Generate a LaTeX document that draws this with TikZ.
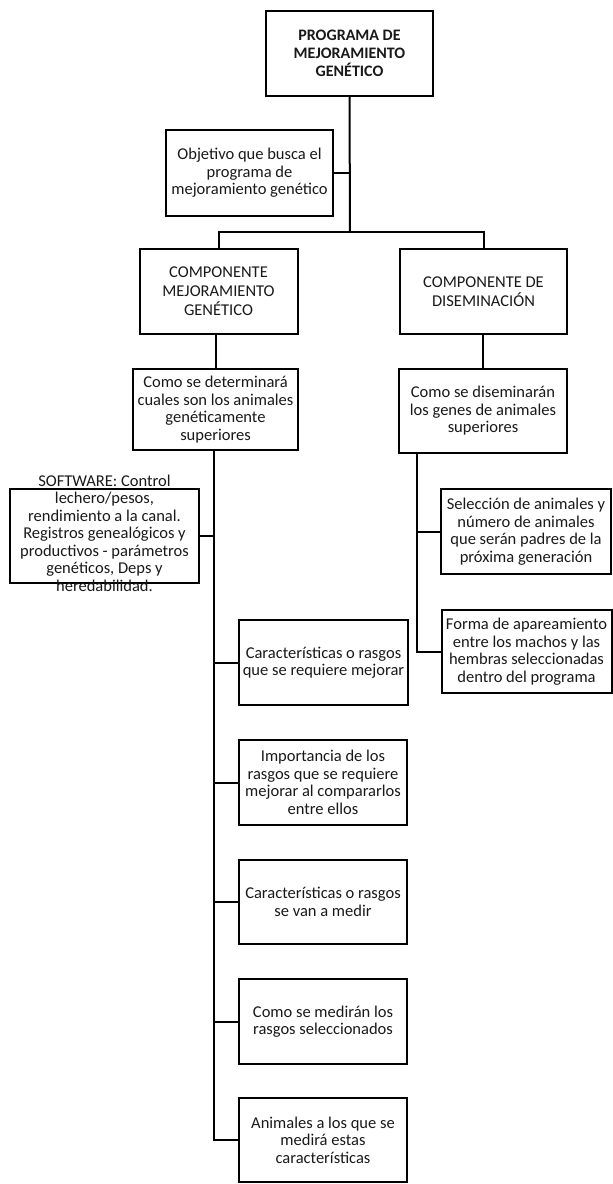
\documentclass[tikz,border=0pt]{standalone}
\usepackage{fontspec}
\setmainfont{Carlito}
\begin{document}
\begin{tikzpicture}[x=1pt,y=-1pt,
  box/.style={draw=black, line width=2pt, rectangle, align=center, inner sep=1pt,
    font=\fontsize{16.5}{17.5}\selectfont, text=black!90},
  conn/.style={draw=black, line width=2pt}]
\useasboundingbox (0,0) rectangle (613,1184);
% boxes
\node[box, minimum width=167, minimum height=85, font=\fontsize{16}{18}\selectfont\bfseries] (top) at (349.5,53.5) {PROGRAMA DE\\MEJORAMIENTO\\GENÉTICO};
\node[box, minimum width=167, minimum height=86] (obj) at (249.5,173) {Objetivo que busca el\\programa de\\mejoramiento genético};
\node[box, minimum width=158, minimum height=85, font=\fontsize{16.5}{19}\selectfont] (cm) at (218.5,291.5) {COMPONENTE\\MEJORAMIENTO\\GENÉTICO};
\node[box, minimum width=167, minimum height=85, font=\fontsize{16.5}{19}\selectfont] (cd) at (483.5,291.5) {COMPONENTE DE\\DISEMINACIÓN};
\node[box, minimum width=165, minimum height=81] (det) at (215.5,409.5) {Como se determinará\\cuales son los animales\\genéticamente\\superiores};
\node[box, minimum width=168, minimum height=84] (dis) at (483,411) {Como se diseminarán\\los genes de animales\\superiores};
\node[box, minimum width=189, minimum height=94] (sw) at (104.5,536) {};
\node[align=center, inner sep=0pt, font=\fontsize{16.5}{17.5}\selectfont, text=black!90] (swt) at (104.5,533) {SOFTWARE: Control\\lechero/pesos,\\rendimiento a la canal.\\Registros genealógicos y\\productivos - parámetros\\genéticos, Deps y\\heredabilidad.};
\node[box, minimum width=170, minimum height=85] (sel) at (526,531.5) {Selección de animales y\\número de animales\\que serán padres de la\\próxima generación};
\node[box, minimum width=170, minimum height=83] (forma) at (526.5,651.5) {Forma de apareamiento\\entre los machos y las\\hembras seleccionadas\\dentro del programa};
\node[box, minimum width=169, minimum height=85] (c1) at (323.5,662.5) {Características o rasgos\\que se requiere mejorar};
\node[box, minimum width=168, minimum height=85] (c2) at (323,782.5) {Importancia de los\\rasgos que se requiere\\mejorar al compararlos\\entre ellos};
\node[box, minimum width=168, minimum height=84] (c3) at (323,902) {Características o rasgos\\se van a medir};
\node[box, minimum width=168, minimum height=85] (c4) at (323,1021.5) {Como se medirán los\\rasgos seleccionados};
\node[box, minimum width=168, minimum height=84] (c5) at (323,1140) {Animales a los que se\\medirá estas\\características};
% connectors
\coordinate (bar) at (350,232);
\draw[conn] (top.south) -- (bar);
\draw[conn] (obj.east) -- (obj.east -| bar);
\draw[conn] (cm.north) |- (bar) -| (cd.north);
\draw[conn] (det.north) -- (det.north |- cm.south);
\draw[conn] (dis.north) -- (dis.north |- cd.south);
\coordinate (ls) at (213.5,450);
\draw[conn] (ls) |- (c5.west);
\draw[conn] (sw.east) -- (sw.east -| ls);
\draw[conn] (c1.west) -- (c1.west -| ls);
\draw[conn] (c2.west) -- (c2.west -| ls);
\draw[conn] (c3.west) -- (c3.west -| ls);
\draw[conn] (c4.west) -- (c4.west -| ls);
\coordinate (rs) at (417,453);
\draw[conn] (rs) |- (forma.west);
\draw[conn] (sel.west) -- (sel.west -| rs);
\end{tikzpicture}
\end{document}
